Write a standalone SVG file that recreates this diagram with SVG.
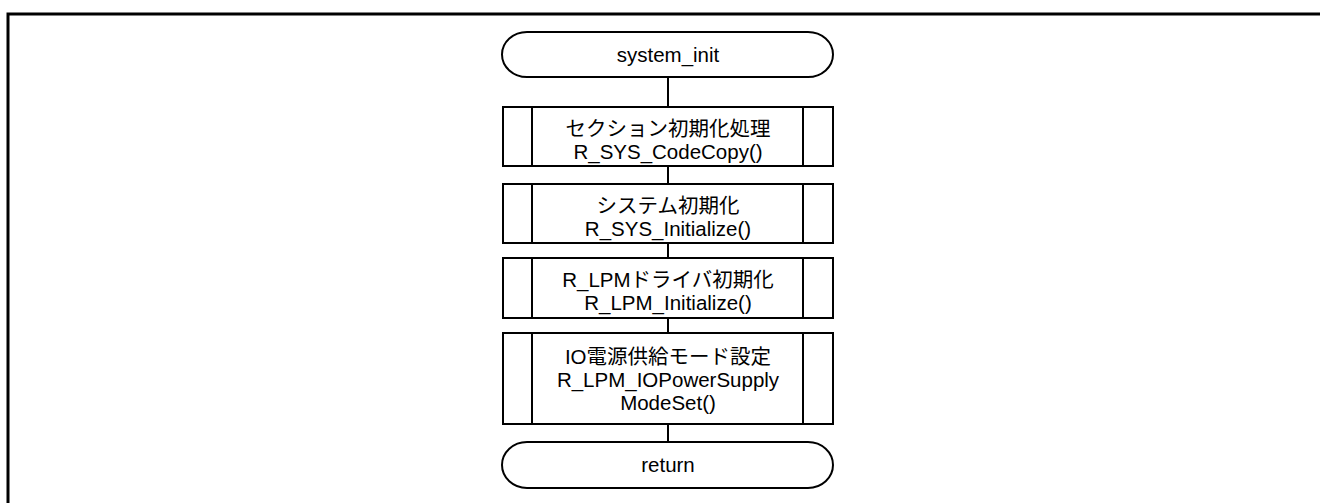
<svg xmlns="http://www.w3.org/2000/svg" width="1320" height="503" viewBox="0 0 1320 503">
<style>
.frame{fill:none;stroke:#000;stroke-width:3}
.shape{fill:#fff;stroke:#000;stroke-width:2}
.conn{fill:none;stroke:#000;stroke-width:2}
text{font-family:"Liberation Sans","Noto Sans CJK JP",Arial,sans-serif;font-size:20.5px;fill:#000;text-anchor:middle}
</style>
<rect width="1320" height="503" fill="#fff"/>
<path class="frame" d="M8,503 V14 H1320"/>
<g id="connectors">
<line class="conn" x1="668" y1="77" x2="668" y2="107"/>
<line class="conn" x1="668" y1="166" x2="668" y2="184"/>
<line class="conn" x1="668" y1="243" x2="668" y2="258"/>
<line class="conn" x1="668" y1="318" x2="668" y2="333"/>
<line class="conn" x1="668" y1="424" x2="668" y2="442"/>
</g>
<g id="start">
<rect class="shape" x="502" y="32" width="331" height="45" rx="25" ry="22.5"/>
<text x="668" y="62">system_init</text>
</g>
<g id="p1">
<rect class="shape" x="503" y="107" width="330" height="59"/>
<line class="shape" x1="532" y1="107" x2="532" y2="166"/>
<line class="shape" x1="803" y1="107" x2="803" y2="166"/>
<text x="668" y="136">セクション初期化処理</text>
<text x="668" y="159">R_SYS_CodeCopy()</text>
</g>
<g id="p2">
<rect class="shape" x="503" y="184" width="330" height="59"/>
<line class="shape" x1="532" y1="184" x2="532" y2="243"/>
<line class="shape" x1="803" y1="184" x2="803" y2="243"/>
<text x="668" y="213">システム初期化</text>
<text x="668" y="236">R_SYS_Initialize()</text>
</g>
<g id="p3">
<rect class="shape" x="503" y="258" width="330" height="60"/>
<line class="shape" x1="532" y1="258" x2="532" y2="318"/>
<line class="shape" x1="803" y1="258" x2="803" y2="318"/>
<text x="668" y="287">R_LPMドライバ初期化</text>
<text x="668" y="310">R_LPM_Initialize()</text>
</g>
<g id="p4">
<rect class="shape" x="503" y="333" width="330" height="91"/>
<line class="shape" x1="532" y1="333" x2="532" y2="424"/>
<line class="shape" x1="803" y1="333" x2="803" y2="424"/>
<text x="668" y="364">IO電源供給モード設定</text>
<text x="668" y="387">R_LPM_IOPowerSupply</text>
<text x="668" y="410">ModeSet()</text>
</g>
<g id="end">
<rect class="shape" x="502" y="442" width="331" height="46" rx="25" ry="23"/>
<text x="668" y="472">return</text>
</g>
</svg>
